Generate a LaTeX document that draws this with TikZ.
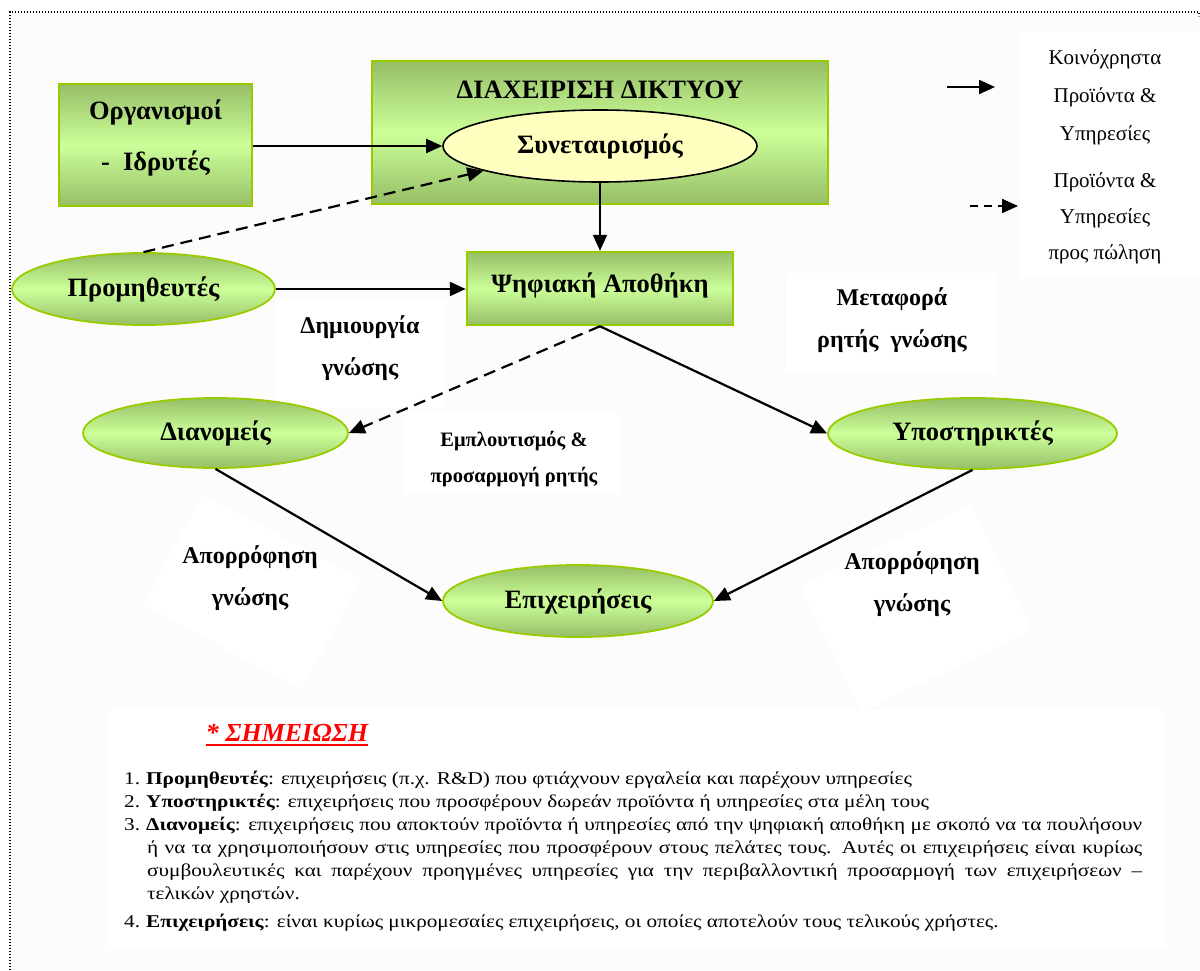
\documentclass[tikz,border=0pt]{standalone}
\usepackage{fontspec}
\setmainfont{Liberation Serif}
\newfontfamily\notefont[FakeStretch=1.18]{Liberation Serif}
\usetikzlibrary{arrows.meta,shapes.geometric}

\definecolor{boxtop}{RGB}{151,190,103}
\definecolor{boxmid}{RGB}{204,255,153}
\definecolor{boxedge}{RGB}{153,204,0}
\definecolor{coopfill}{RGB}{255,255,192}
\definecolor{pagebg}{RGB}{252,252,252}
\definecolor{notered}{RGB}{255,0,0}

\tikzset{
  greenbox/.style={rectangle, draw=boxedge, line width=2.5pt,
    top color=boxtop, bottom color=boxtop, middle color=boxmid, inner sep=0pt},
  greenell/.style={ellipse, draw=boxedge, line width=1.8pt,
    top color=boxtop, bottom color=boxtop, middle color=boxmid, inner sep=0pt,
    font=\fontsize{26.5}{30}\selectfont\bfseries},
  coopell/.style={ellipse, draw=black, line width=1.6pt, fill=coopfill, inner sep=0pt,
    font=\fontsize{26.5}{30}\selectfont\bfseries},
  boxtext/.style={align=center, inner sep=0pt, font=\fontsize{26.5}{51}\selectfont\bfseries},
  pad/.style={rectangle, fill=white, draw=none, inner sep=0pt},
  lbl/.style={align=center, inner sep=0pt, font=\fontsize{24}{42}\selectfont\bfseries},
  smalllbl/.style={align=center, inner sep=0pt, font=\fontsize{20.5}{36}\selectfont\bfseries},
  legendtext/.style={align=center, inner sep=0pt, font=\fontsize{21}{38}\selectfont},
  flow/.style={-{Triangle[length=16pt,width=14pt]}, line width=2.2pt, black},
  saleflow/.style={flow, dash pattern=on 12pt off 7pt},
  legendsale/.style={flow, dash pattern=on 8pt off 6pt},
  frame/.style={line width=1.3pt, dash pattern=on 1.3pt off 1.7pt, black},
}

\begin{document}
\begin{tikzpicture}[x=1pt, y=-1pt]
  % page and frame
  \useasboundingbox (0,0) rectangle (1200,970);
  \fill[white] (0,0) rectangle (1200,970);
  \fill[pagebg] (10,12) rectangle (1200,970);
  \draw[frame] (10,970) -- (10,12) -- (1199,12) -- (1199,16);

  % white pads behind the labels
  \node[pad, minimum width=169, minimum height=108] (createpad) at (360.5,354) {};
  \node[pad, minimum width=211, minimum height=100] (transferpad) at (891.5,323) {};
  \node[pad, minimum width=215, minimum height=80] (enrichpad) at (512.5,453) {};
  \node[pad, rotate=-28, minimum width=180, minimum height=125] (absorbpadL) at (252,592) {};
  \node[pad, rotate=26, minimum width=190, minimum height=140] (absorbpadR) at (916,608) {};
  \node[pad, minimum width=180, minimum height=245] (legendpad) at (1110,154.5) {};
  \node[pad, minimum width=1057, minimum height=238] (notepad) at (636.5,829) {};

  % founders
  \node[greenbox, minimum width=193, minimum height=122] (org) at (155.5,145) {};
  \node[boxtext] (orgtxt) at (155.5,137.5) {Οργανισμοί\\-\ \ Ιδρυτές};

  % network management
  \node[greenbox, minimum width=456, minimum height=143] (net) at (600,132.5) {};
  \node[boxtext] (nettitle) at (600,90) {ΔΙΑΧΕΙΡΙΣΗ ΔΙΚΤΥΟΥ};
  \node[coopell, minimum width=314, minimum height=72] (syn) at (600,146) {Συνεταιρισμός};

  % digital repository
  \node[greenbox, minimum width=266, minimum height=73] (psi) at (600,288.5) {};
  \node[boxtext] (psitxt) at (600,285) {Ψηφιακή Αποθήκη};

  % actors
  \node[greenell, minimum width=263, minimum height=72] (prom) at (143.5,289) {Προμηθευτές};
  \node[greenell, minimum width=265, minimum height=70] (dia) at (215.5,433) {Διανομείς};
  \node[greenell, minimum width=289, minimum height=71] (sup) at (972.5,433.5) {Υποστηρικτές};
  \node[greenell, minimum width=270, minimum height=72] (epi) at (578,601) {Επιχειρήσεις};

  % labels
  \node[lbl] (create) at (360,348) {Δημιουργία\\γνώσης};
  \node[lbl] (transfer) at (892,320) {Μεταφορά\\ρητής\ \ γνώσης};
  \node[smalllbl] (enrich) at (514,459) {Εμπλουτισμός \&\\προσαρμογή ρητής};
  \node[lbl] (absorbL) at (250,578) {Απορρόφηση\\γνώσης};
  \node[lbl] (absorbR) at (912,584) {Απορρόφηση\\γνώσης};

  % connectors
  \draw[flow] (org.east |- syn.west) -- (syn.west);
  \draw[flow] (syn.south) -- (psi.north);
  \draw[flow] (prom.east) -- (prom.east -| psi.west);
  \draw[saleflow] (prom.north) -- (syn.192);
  \draw[saleflow] (psi.south) -- (dia.east);
  \draw[flow] (psi.south) -- (sup.west);
  \draw[flow] (dia.south) -- (epi.west);
  \draw[flow] (sup.south) -- (epi.east);

  % legend
  \coordinate (sharedA) at (947,87);
  \coordinate (sharedB) at (995,87);
  \coordinate (saleA) at (970,206);
  \coordinate (saleB) at (1018,206);
  \draw[flow] (sharedA) -- (sharedB);
  \draw[legendsale] (saleA) -- (saleB);
  \node[legendtext] (sharedtxt) at (1105,97) {Κοινόχρηστα\\Προϊόντα \&\\Υπηρεσίες};
  \node[legendtext, font=\fontsize{21}{36}\selectfont] (saletxt) at (1105,218) {Προϊόντα \&\\Υπηρεσίες\\προς πώληση};

  % note
  \node[inner sep=0pt, text=notered, font=\fontsize{26}{30}\selectfont\bfseries\itshape]
    (notetitle) at (287,733) {* ΣΗΜΕΙΩΣΗ};
  \draw[notered, line width=2.6pt] ([yshift=-3pt]notetitle.south west) -- ([yshift=-3pt]notetitle.south east);
  \node[anchor=north west, inner sep=0pt, text width=1018pt, align=justify,
        font=\notefont\fontsize{18}{23}\selectfont] (notes) at (124,771) {%
    \hyphenpenalty=10000\exhyphenpenalty=10000
    \noindent\hangindent=23pt\hangafter=1\makebox[22pt][l]{1.}\textbf{Προμηθευτές}: επιχειρήσεις (π.χ. R\&D) που φτιάχνουν εργαλεία και παρέχουν υπηρεσίες\par
    \noindent\hangindent=23pt\hangafter=1\makebox[22pt][l]{2.}\textbf{Υποστηρικτές}: επιχειρήσεις που προσφέρουν δωρεάν προϊόντα ή υπηρεσίες στα μέλη τους\par
    \noindent\hangindent=23pt\hangafter=1\makebox[22pt][l]{3.}\textbf{Διανομείς}: επιχειρήσεις που αποκτούν προϊόντα ή υπηρεσίες από την ψηφιακή αποθήκη με σκοπό να τα πουλήσουν\linebreak
    ή να τα χρησιμοποιήσουν στις υπηρεσίες που προσφέρουν στους πελάτες τους. Αυτές οι επιχειρήσεις είναι κυρίως\linebreak
    συμβουλευτικές και παρέχουν προηγμένες υπηρεσίες για την περιβαλλοντική προσαρμογή των επιχειρήσεων –\linebreak
    τελικών χρηστών.\par\vspace{5pt}
    \noindent\hangindent=23pt\hangafter=1\makebox[22pt][l]{4.}\textbf{Επιχειρήσεις}: είναι κυρίως μικρομεσαίες επιχειρήσεις, οι οποίες αποτελούν τους τελικούς χρήστες.\par
  };
\end{tikzpicture}
\end{document}
